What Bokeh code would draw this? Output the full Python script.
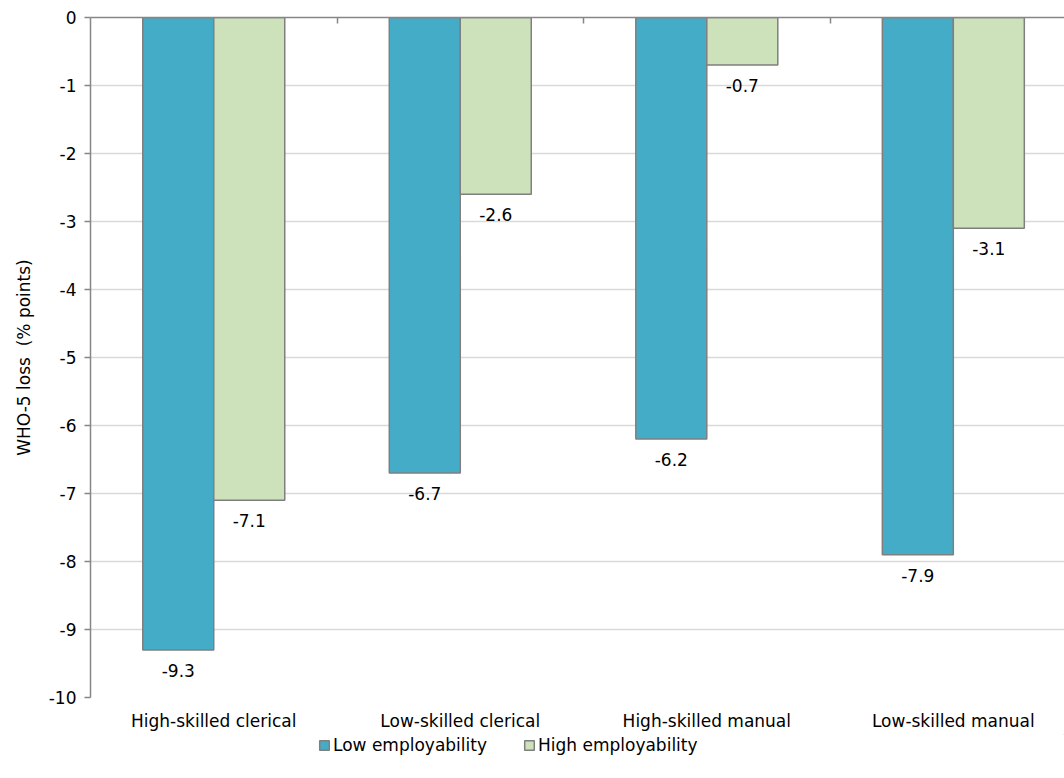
from bokeh.plotting import figure
from bokeh.layouts import column
from bokeh.models import Range1d, FixedTicker, LinearAxis, Legend, LegendItem, ColumnDataSource
from bokeh.core.properties import value
from bokeh.embed import file_html
from bokeh.resources import INLINE

categories = ["High-skilled clerical", "Low-skilled clerical", "High-skilled manual", "Low-skilled manual"]
low_employability = [-9.3, -6.7, -6.2, -7.9]
high_employability = [-7.1, -2.6, -0.7, -3.1]
series_names = ["Low employability", "High employability"]
y_ticks = [0, -1, -2, -3, -4, -5, -6, -7, -8, -9, -10]

FONT = "DejaVu Sans"
FS = "17px"
BLUE = "#45ACC8"
GREEN = "#CDE1BA"
EDGE = "#7F7F7F"
GRID = "#D9D9D9"
AXIS = "#868686"

bar_w = 0.288
centers = [i + 0.5 for i in range(len(categories))]
x_low = [c - bar_w / 2 for c in centers]
x_high = [c + bar_w / 2 for c in centers]

p = figure(width=1064, height=734, output_backend="svg", toolbar_location=None,
           x_range=Range1d(0, 3.951), y_range=Range1d(-10, 0),
           min_border_left=90, min_border_top=17, min_border_bottom=37, min_border_right=0,
           x_axis_location=None, y_axis_location=None)
p.outline_line_color = None
p.background_fill_color = "white"
p.xgrid.visible = False
p.ygrid.grid_line_color = GRID
p.ygrid.grid_line_width = 1.5
p.ygrid.ticker = FixedTicker(ticks=y_ticks)

# y axis
yax = LinearAxis(ticker=FixedTicker(ticks=y_ticks))
yax.major_label_overrides = {t: str(t) for t in y_ticks}
yax.axis_line_color = AXIS
yax.axis_line_width = 1.5
yax.major_tick_line_color = AXIS
yax.major_tick_line_width = 1.5
yax.major_tick_out = 6
yax.major_tick_in = 0
yax.minor_tick_line_color = None
yax.major_label_text_font = FONT
yax.major_label_text_font_size = FS
yax.major_label_text_color = "#000000"
yax.major_label_standoff = 8
yax.axis_label = "WHO-5 loss\u00a0\u00a0(% points)"
yax.axis_label_text_font = FONT
yax.axis_label_text_font_size = FS
yax.axis_label_text_font_style = "normal"
yax.axis_label_text_color = "#000000"
yax.axis_label_standoff = 12
p.add_layout(yax, "left")

# top axis line at y=0 with category boundary ticks
tax = LinearAxis(ticker=FixedTicker(ticks=[1, 2, 3]))
tax.axis_line_color = AXIS
tax.axis_line_width = 1.5
tax.major_tick_line_color = AXIS
tax.major_tick_line_width = 1.5
tax.major_tick_in = 6
tax.major_tick_out = 0
tax.minor_tick_line_color = None
tax.major_label_text_font_size = "0px"
tax.major_label_text_color = None
p.add_layout(tax, "above")

# bottom category labels
bax = LinearAxis(ticker=FixedTicker(ticks=centers))
bax.major_label_overrides = {c: n for c, n in zip(centers, categories)}
bax.axis_line_color = None
bax.major_tick_line_color = None
bax.major_tick_in = 0
bax.major_tick_out = 0
bax.minor_tick_line_color = None
bax.minor_tick_in = 0
bax.minor_tick_out = 0
bax.major_label_text_font = FONT
bax.major_label_text_font_size = FS
bax.major_label_text_color = "#000000"
bax.major_label_standoff = 13
p.add_layout(bax, "below")

src = ColumnDataSource(dict(xl=x_low, xh=x_high, lo=low_employability, hi=high_employability,
                            lol=[f"{v:.1f}" for v in low_employability],
                            hil=[f"{v:.1f}" for v in high_employability]))
p.vbar(x="xl", top=0, bottom="lo", width=bar_w, source=src,
       fill_color=BLUE, line_color=EDGE, line_width=1.5)
p.vbar(x="xh", top=0, bottom="hi", width=bar_w, source=src,
       fill_color=GREEN, line_color=EDGE, line_width=1.5)

p.text(x="xl", y="lo", text="lol", source=src, text_align="center", text_baseline="top",
       y_offset=14, text_font=value(FONT), text_font_size=FS, text_color="#000000")
p.text(x="xh", y="hi", text="hil", source=src, text_align="center", text_baseline="top",
       y_offset=14, text_font=value(FONT), text_font_size=FS, text_color="#000000")

# legend strip below the chart (swatch renderers sit outside its visible range)
lg = figure(width=1064, height=36, output_backend="svg", toolbar_location=None,
            x_range=Range1d(0, 1), y_range=Range1d(0, 1),
            min_border_left=0, min_border_right=0, min_border_top=0, min_border_bottom=0,
            x_axis_location=None, y_axis_location=None)
lg.outline_line_color = None
lg.xgrid.visible = False
lg.ygrid.visible = False
r_low = lg.vbar(x=[5], top=[5], bottom=[4], width=0.1,
                fill_color=BLUE, line_color=EDGE, line_width=1.5)
r_high = lg.vbar(x=[6], top=[5], bottom=[4], width=0.1,
                 fill_color=GREEN, line_color=EDGE, line_width=1.5)

legend = Legend(items=[LegendItem(label=series_names[0], renderers=[r_low]),
                       LegendItem(label=series_names[1], renderers=[r_high])],
                orientation="horizontal", location=(228, 15))
legend.label_text_font = FONT
legend.label_text_font_size = FS
legend.label_text_color = "#000000"
legend.glyph_width = 12
legend.glyph_height = 12
legend.label_standoff = 3
legend.spacing = 36
legend.padding = 0
legend.margin = 0
legend.label_height = 20
legend.border_line_color = None
legend.background_fill_alpha = 0
lg.add_layout(legend, "center")

open("out.html", "w").write(file_html(column(p, lg, spacing=0), INLINE))
